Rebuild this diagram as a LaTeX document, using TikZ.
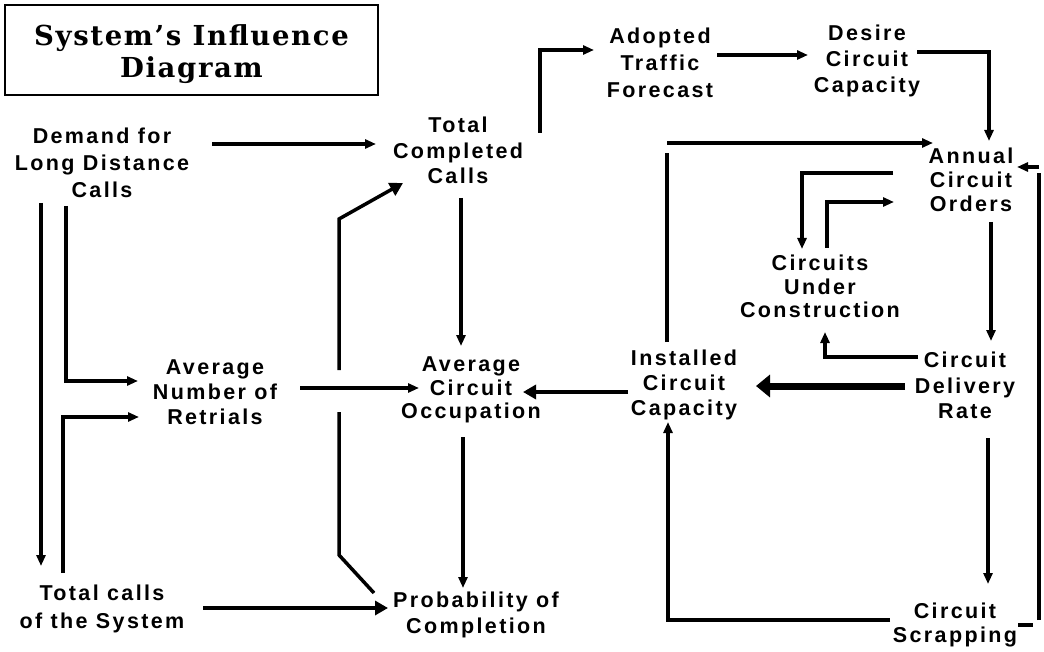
\documentclass[tikz,border=0pt]{standalone}
\usepackage{fontspec}
\setmainfont{Liberation Sans}
\newfontfamily\lblfont[LetterSpace=11]{Liberation Sans}
\newfontfamily\ttlfont[LetterSpace=6]{DejaVu Serif}
\usetikzlibrary{arrows.meta}
\tikzset{
  lbl/.style={font={\lblfont\bfseries\fontsize{21.5}{#1}\selectfont}, align=center, anchor=north, inner sep=0pt},
  lbl/.default=25,
  conn/.style={line width=3.5pt},
  arr/.style={conn, -{Triangle[length=11pt,width=9pt]}},
  bigarr/.style={conn, -{Triangle[length=13pt,width=14pt]}},
  thickarr/.style={line width=7pt, -{Triangle[length=14pt,width=22pt]}},
  ttl/.style={draw, line width=1.3pt, minimum width=373pt, minimum height=90pt, inner sep=0pt, align=center,
    font={\ttlfont\bfseries\fontsize{27.5}{32}\selectfont}}
}
\begin{document}
\begin{tikzpicture}[x=1pt,y=-1pt]
\useasboundingbox (0,0) rectangle (1044,652);
% title
\node[ttl] (title) at (191.5,50) {};
\node[inner sep=0pt, align=center, font={\ttlfont\bfseries\fontsize{27.5}{32}\selectfont}] (ttltext) at (191.5,54) {System’s Influence\\Diagram};
% nodes
\node[lbl=27] (dem) at (102,128) {Demand for\\Long Distance\\Calls};
\node[lbl=25.5] (tcc) at (458,117) {Total\\Completed\\Calls};
\node[lbl=27] (atf) at (660,28) {Adopted\\Traffic\\Forecast};
\node[lbl=26] (dcc) at (867,25) {Desire\\Circuit\\Capacity};
\node[lbl=24] (aco) at (971,148) {Annual\\Circuit\\Orders};
\node[lbl=23.5] (cuc) at (820,255) {Circuits\\Under\\Construction};
\node[lbl=25] (anr) at (215,360) {Average\\Number of\\Retrials};
\node[lbl=23.5] (avo) at (471,357) {Average\\Circuit\\Occupation};
\node[lbl=25] (icc) at (684,350) {Installed\\Circuit\\Capacity};
\node[lbl=25.5] (cdr) at (965,352) {Circuit\\Delivery\\Rate};
\node[lbl=28] (tcs) at (102,585) {Total calls\\of the System};
\node[lbl=26] (pc) at (476,592) {Probability of\\Completion};
\node[lbl=24] (csc) at (955,603) {Circuit\\Scrapping};
% connector points
\foreach \n/\x/\y in {
  c1a/212/144, c1b/376/144,
  c2a/540/133, c2m/540/50, c2b/594/50,
  c3a/717/55, c3b/808/55,
  c4a/917/52, c4m/989/52, c4b/989/141,
  c5a/667/342, c5m/667/153, c5c/667/143, c5b/933/143,
  c6a/893/173, c6m/802/173, c6b/802/249,
  c7a/827/248, c7m/827/202, c7b/894/202,
  c8a/991/222, c8b/991/341,
  c9a/918/357, c9m/825/357, c9b/825/332,
  c10a/905/386, c10b/756/386,
  c11a/628/392, c11b/523/392,
  c12a/988/438, c12b/988/584,
  c13a/890/620, c13m/668/620, c13b/668/422,
  c14a/1018/625, c14d/1033/625, c14e/1039/620, c14f/1039/173, c14c/1039/167, c14b/1017/167,
  c15a/66/206, c15m/66/381, c15b/138/381,
  c16a/41/203, c16b/41/566,
  c17a/63/573, c17m/63/417, c17b/139/417,
  c18a/300/388, c18b/419/388,
  c19a/339/370, c19m/339/219, c19b/403/183,
  c20a/339/412, c20m/339/555, c20b/374/593,
  c21a/461/198, c21b/461/346,
  c22a/463/437, c22b/463/588,
  c23a/203/608, c23b/388/608}
  \coordinate (\n) at (\x,\y);
% connectors
\draw[arr] (c1a) -- (c1b);
\draw[arr] (c2a) -- (c2m) -- (c2b);
\draw[arr] (c3a) -- (c3b);
\draw[arr] (c4a) -- (c4m) -- (c4b);
\draw[conn] (c5a) -- (c5m);
\draw[arr] (c5c) -- (c5b);
\draw[arr] (c6a) -- (c6m) -- (c6b);
\draw[arr] (c7a) -- (c7m) -- (c7b);
\draw[arr] (c8a) -- (c8b);
\draw[arr] (c9a) -- (c9m) -- (c9b);
\draw[thickarr] (c10a) -- (c10b);
\draw[bigarr] (c11a) -- (c11b);
\draw[arr] (c12a) -- (c12b);
\draw[arr] (c13a) -- (c13m) -- (c13b);
\draw[conn] (c14a) -- (c14d);
\draw[conn] (c14e) -- (c14f);
\draw[arr] (c14c) -- (c14b);
\draw[arr] (c15a) -- (c15m) -- (c15b);
\draw[arr] (c16a) -- (c16b);
\draw[arr] (c17a) -- (c17m) -- (c17b);
\draw[arr] (c18a) -- (c18b);
\draw[bigarr] (c19a) -- (c19m) -- (c19b);
\draw[conn] (c20a) -- (c20m) -- (c20b);
\draw[arr] (c21a) -- (c21b);
\draw[arr] (c22a) -- (c22b);
\draw[bigarr] (c23a) -- (c23b);
\end{tikzpicture}
\end{document}
